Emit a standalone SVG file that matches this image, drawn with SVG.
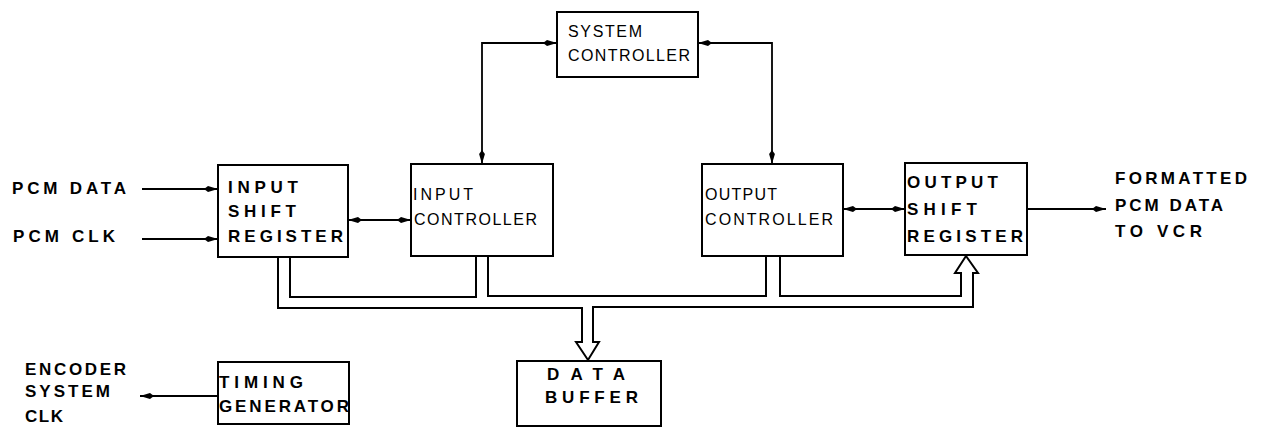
<svg xmlns="http://www.w3.org/2000/svg" width="1261" height="428" viewBox="0 0 1261 428">
<style>
.box{fill:none;stroke:#000;stroke-width:2}
.ln{fill:none;stroke:#000;stroke-width:1.8}
.bus{fill:none;stroke:#000;stroke-width:2;stroke-linejoin:miter}
.w{font-family:"Liberation Sans",Arial,sans-serif;font-size:17px;font-weight:bold;fill:#000}
.n{font-family:"Liberation Sans",Arial,sans-serif;font-size:16px;fill:#000}
</style>
<defs>
<marker id="ah" viewBox="0 0 14 7" refX="14" refY="3.5" markerWidth="14" markerHeight="7" markerUnits="userSpaceOnUse" orient="auto-start-reverse">
<path d="M0,3.5 L4,0.6 L14,3.5 L4,6.4 Z" fill="#000"/>
</marker>
</defs>
<rect width="1261" height="428" fill="#fff"/>

<g id="connectors">
<path class="ln" d="M142 189 H218" marker-end="url(#ah)"/>
<path class="ln" d="M142 239 H218" marker-end="url(#ah)"/>
<path class="ln" d="M348 220 H411" marker-start="url(#ah)" marker-end="url(#ah)"/>
<path class="ln" d="M557 43 H482 V164" marker-start="url(#ah)" marker-end="url(#ah)"/>
<path class="ln" d="M698 43 H772 V164" marker-start="url(#ah)" marker-end="url(#ah)"/>
<path class="ln" d="M843 209 H905" marker-start="url(#ah)" marker-end="url(#ah)"/>
<path class="ln" d="M1027 209 H1106" marker-end="url(#ah)"/>
<path class="ln" d="M218 396 H140" marker-end="url(#ah)"/>
<path class="bus" d="M278 257 V308 H582 V342 H576 L588 360 L599 342 H593 V307 H973 V273 H978 L966 256 L955 273 H961 V296 H780 V256"/>
<path class="bus" d="M290 257 V297 H476 V256"/>
<path class="bus" d="M488 256 V296 H766 V256"/>
</g>

<g id="pcm-data-label"><text class="w" x="12" y="194" textLength="114" lengthAdjust="spacing">PCM DATA</text></g>
<g id="pcm-clk-label"><text class="w" x="13" y="242" textLength="102" lengthAdjust="spacing">PCM CLK</text></g>

<g id="system-controller">
<rect class="box" x="557" y="12" width="141" height="65"/>
<text class="n" x="568" y="37" textLength="74" lengthAdjust="spacing">SYSTEM</text>
<text class="n" x="568" y="61" textLength="122" lengthAdjust="spacing">CONTROLLER</text>
</g>

<g id="input-shift-register">
<rect class="box" x="218" y="165" width="130" height="92"/>
<text class="w" x="228" y="193" textLength="70" lengthAdjust="spacing">INPUT</text>
<text class="w" x="228" y="217" textLength="68" lengthAdjust="spacing">SHIFT</text>
<text class="w" x="228" y="242" textLength="115" lengthAdjust="spacing">REGISTER</text>
</g>

<g id="input-controller">
<rect class="box" x="411" y="164" width="142" height="92"/>
<text class="n" x="413" y="200" textLength="60" lengthAdjust="spacing">INPUT</text>
<text class="n" x="414" y="225" textLength="123" lengthAdjust="spacing">CONTROLLER</text>
</g>

<g id="output-controller">
<rect class="box" x="702" y="164" width="141" height="92"/>
<text class="n" x="705" y="200" textLength="72" lengthAdjust="spacing">OUTPUT</text>
<text class="n" x="705" y="225" textLength="128" lengthAdjust="spacing">CONTROLLER</text>
</g>

<g id="output-shift-register">
<rect class="box" x="905" y="163" width="122" height="92"/>
<text class="w" x="907" y="188" textLength="91" lengthAdjust="spacing">OUTPUT</text>
<text class="w" x="907" y="215" textLength="70" lengthAdjust="spacing">SHIFT</text>
<text class="w" x="907" y="242" textLength="116" lengthAdjust="spacing">REGISTER</text>
</g>

<g id="formatted-label">
<text class="w" x="1115" y="184" textLength="132" lengthAdjust="spacing">FORMATTED</text>
<text class="w" x="1115" y="211" textLength="108" lengthAdjust="spacing">PCM DATA</text>
<text class="w" x="1115" y="237" textLength="87" lengthAdjust="spacing">TO VCR</text>
</g>

<g id="encoder-label">
<text class="w" x="25" y="375" textLength="101" lengthAdjust="spacing">ENCODER</text>
<text class="w" x="25" y="397" textLength="85" lengthAdjust="spacing">SYSTEM</text>
<text class="w" x="25" y="422" textLength="38" lengthAdjust="spacing">CLK</text>
</g>

<g id="timing-generator">
<rect class="box" x="218" y="362" width="131" height="62"/>
<text class="w" x="219" y="388" textLength="84" lengthAdjust="spacing">TIMING</text>
<text class="w" x="219" y="412" textLength="130" lengthAdjust="spacing">GENERATOR</text>
</g>

<g id="data-buffer">
<rect class="box" x="517" y="361" width="144" height="65"/>
<text class="w" x="547" y="380" textLength="78" lengthAdjust="spacing">DATA</text>
<text class="w" x="545" y="403" textLength="93" lengthAdjust="spacing">BUFFER</text>
</g>
</svg>
